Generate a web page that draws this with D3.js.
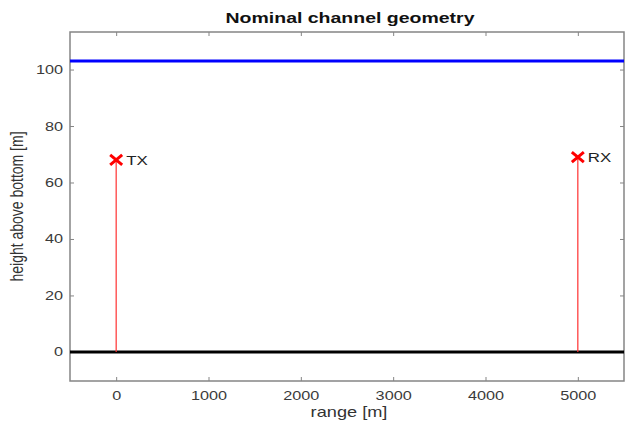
<!DOCTYPE html>
<html>
<head>
<meta charset="utf-8">
<script src="https://cdn.jsdelivr.net/npm/d3@7"></script>
<style>
  body { margin: 0; background: #fff; }
  svg { font-family: "Liberation Sans", Arial, sans-serif; }
</style>
</head>
<body>
<div id="vis"></div>
<script>
// Constants
const FRAME_WIDTH = 626;
const FRAME_HEIGHT = 425;
const MARGINS = { left: 70, right: 2, top: 32, bottom: 44 };
const VIS_WIDTH = FRAME_WIDTH - MARGINS.left - MARGINS.right;
const VIS_HEIGHT = FRAME_HEIGHT - MARGINS.top - MARGINS.bottom;
// the original figure is stretched sideways, so text is too
const STRETCH = 1.3;

// data
const X_DOMAIN = [-500, 5500];
const Y_DOMAIN = [-10.3, 113.3];
const X_TICKS = [0, 1000, 2000, 3000, 4000, 5000];
const Y_TICKS = [0, 20, 40, 60, 80, 100];
const SURFACE = 103;
const BOTTOM = 0;
const NODE_NAMES = ["TX", "RX"];
const NODE_RANGE = [0, 5000];
const NODE_HEIGHT = [68, 69];

const nodes = NODE_NAMES.map((n, i) => ({ name: n, r: NODE_RANGE[i], h: NODE_HEIGHT[i] }));

const FRAME = d3.select("#vis")
    .append("svg")
    .attr("width", FRAME_WIDTH)
    .attr("height", FRAME_HEIGHT);

const X_SCALE = d3.scaleLinear().domain(X_DOMAIN).range([0, VIS_WIDTH]);
const Y_SCALE = d3.scaleLinear().domain(Y_DOMAIN).range([VIS_HEIGHT, 0]);

const g = FRAME.append("g")
    .attr("transform", "translate(" + MARGINS.left + "," + MARGINS.top + ")");

// widen a text element around its own anchor point
function widen(sel) {
    sel.each(function () {
        const t = d3.select(this);
        const x = +t.attr("x") || 0, y = +t.attr("y") || 0;
        t.attr("x", 0).attr("y", 0)
            .attr("transform", "translate(" + x + "," + y + ") scale(" + STRETCH + ",1)");
    });
}

// axes (matlab style: ticks inward, box all round)
const AXIS_COLOR = "#858585";
function styleAxis(sel) {
    sel.select(".domain").remove();
    sel.selectAll(".tick line").attr("stroke", AXIS_COLOR);
    sel.selectAll(".tick text").attr("fill", "#3a3a3a").attr("font-size", "12.5px").call(widen);
}

g.append("g")
    .attr("transform", "translate(0," + VIS_HEIGHT + ")")
    .call(d3.axisBottom(X_SCALE).tickValues(X_TICKS).tickSize(-4).tickPadding(10).tickFormat(d3.format("d")))
    .call(styleAxis);
g.append("g")
    .call(d3.axisTop(X_SCALE).tickValues(X_TICKS).tickSize(-4).tickFormat(""))
    .call(styleAxis);
g.append("g")
    .call(d3.axisLeft(Y_SCALE).tickValues(Y_TICKS).tickSize(-4).tickPadding(7))
    .call(styleAxis);
g.append("g")
    .attr("transform", "translate(" + VIS_WIDTH + ",0)")
    .call(d3.axisRight(Y_SCALE).tickValues(Y_TICKS).tickSize(-4).tickFormat(""))
    .call(styleAxis);

g.append("rect")
    .attr("x", 0).attr("y", 0)
    .attr("width", VIS_WIDTH).attr("height", VIS_HEIGHT)
    .attr("fill", "none")
    .attr("stroke", AXIS_COLOR)
    .attr("stroke-width", 1.5);

// surface and bottom
g.append("line")
    .attr("x1", X_SCALE(X_DOMAIN[0])).attr("x2", X_SCALE(X_DOMAIN[1]))
    .attr("y1", Y_SCALE(SURFACE)).attr("y2", Y_SCALE(SURFACE))
    .attr("stroke", "#0000ff").attr("stroke-width", 3);
g.append("line")
    .attr("x1", X_SCALE(X_DOMAIN[0])).attr("x2", X_SCALE(X_DOMAIN[1]))
    .attr("y1", Y_SCALE(BOTTOM)).attr("y2", Y_SCALE(BOTTOM))
    .attr("stroke", "#000").attr("stroke-width", 3);

// nodes
g.selectAll(".mast")
    .data(nodes)
    .enter()
    .append("line")
    .attr("class", "mast")
    .attr("x1", d => X_SCALE(d.r)).attr("x2", d => X_SCALE(d.r))
    .attr("y1", Y_SCALE(BOTTOM)).attr("y2", d => Y_SCALE(d.h))
    .attr("stroke", "#ff3030").attr("stroke-width", 1.2);

const MX = 6, MY = 5;
g.selectAll(".mark")
    .data(nodes)
    .enter()
    .append("path")
    .attr("class", "mark")
    .attr("d", d => {
        const x = X_SCALE(d.r), y = Y_SCALE(d.h);
        return "M" + (x - MX) + "," + (y - MY) + "L" + (x + MX) + "," + (y + MY) +
            "M" + (x - MX) + "," + (y + MY) + "L" + (x + MX) + "," + (y - MY);
    })
    .attr("stroke", "#ff0000").attr("stroke-width", 3).attr("fill", "none");

g.selectAll(".label")
    .data(nodes)
    .enter()
    .append("text")
    .attr("x", d => X_SCALE(d.r) + 10)
    .attr("y", d => Y_SCALE(d.h) + 5)
    .attr("font-size", "13px")
    .attr("fill", "#222")
    .text(d => d.name)
    .call(widen);

// title and labels
FRAME.append("text")
    .attr("x", 350)
    .attr("y", 23)
    .attr("text-anchor", "middle")
    .attr("font-size", "15px")
    .attr("font-weight", "bold")
    .attr("fill", "#111")
    .text("Nominal channel geometry")
    .call(widen);

FRAME.append("text")
    .attr("x", 349)
    .attr("y", 417)
    .attr("text-anchor", "middle")
    .attr("font-size", "14px")
    .attr("fill", "#333")
    .text("range [m]")
    .call(widen);

FRAME.append("text")
    .attr("transform", "translate(23," + (MARGINS.top + VIS_HEIGHT / 2) + ") rotate(-90) scale(1," + STRETCH + ")")
    .attr("text-anchor", "middle")
    .attr("font-size", "14px")
    .attr("fill", "#333")
    .text("height above bottom [m]");
</script>
</body>
</html>
